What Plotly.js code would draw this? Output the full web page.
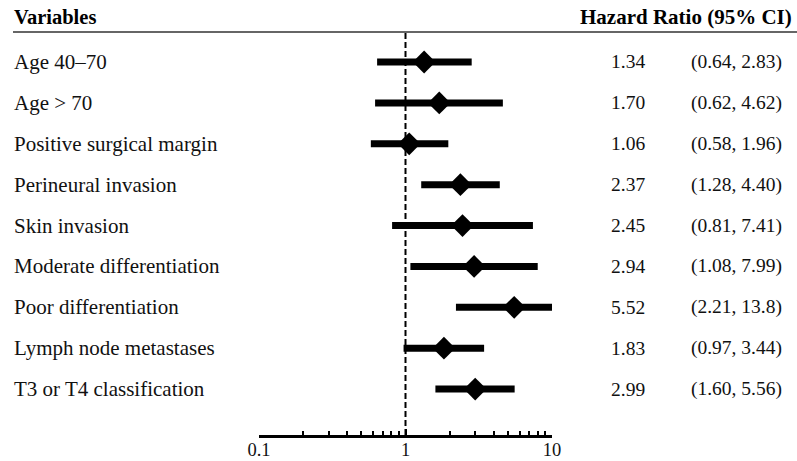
<!DOCTYPE html>
<html>
<head>
<meta charset="utf-8">
<script src="https://cdn.plot.ly/plotly-3.0.1.min.js"></script>
<style>html,body{margin:0;padding:0;background:#fff;}#chart{width:797px;height:461px;}</style>
</head>
<body>
<div id="chart"></div>
<script>
const variables = ["Age 40–70","Age > 70","Positive surgical margin","Perineural invasion","Skin invasion","Moderate differentiation","Poor differentiation","Lymph node metastases","T3 or T4 classification"];
const hr = [1.34,1.70,1.06,2.37,2.45,2.94,5.52,1.83,2.99];
const ciLow = [0.64,0.62,0.58,1.28,0.81,1.08,2.21,0.97,1.60];
const ciHigh = [2.83,4.62,1.96,4.40,7.41,7.99,13.8,3.44,5.56];
const hrLabels = ["1.34","1.70","1.06","2.37","2.45","2.94","5.52","1.83","2.99"];
const ciLabels = ["(0.64, 2.83)","(0.62, 4.62)","(0.58, 1.96)","(1.28, 4.40)","(0.81, 7.41)","(1.08, 7.99)","(2.21, 13.8)","(0.97, 3.44)","(1.60, 5.56)"];
const majorTicks = [0.1,1,10];
const minorTicks = [0.2,0.3,0.4,0.5,0.6,0.7,0.8,0.9,2,3,4,5,6,7,8,9];
const refValue = 1;

const serif = "Liberation Serif, Times New Roman, serif";
const W = 797, H = 461;
const px = v => v / W;
const py = v => 1 - v / H;

const segX = [], segY = [];
variables.forEach((v,i)=>{ segX.push(ciLow[i], ciHigh[i], null); segY.push(v, v, null); });

const traces = [
  {x: segX, y: segY, mode: "lines", type: "scatter", line: {color: "#000", width: 7}, hoverinfo: "skip", showlegend: false},
  {x: hr, y: variables, mode: "markers", type: "scatter", marker: {symbol: "diamond", size: 17.5, color: "#000"}, showlegend: false}
];

const yTop = py(32), yBot = py(435);
const annotations = [];
annotations.push({text: "<b>Variables</b>", xref: "paper", yref: "paper", x: px(12), y: py(17), xanchor: "left", yanchor: "middle", showarrow: false, font: {family: serif, size: 20.5, color: "#000"}});
annotations.push({text: "<b>Hazard Ratio (95% CI)</b>", xref: "paper", yref: "paper", x: px(794), y: py(17), xanchor: "right", yanchor: "middle", showarrow: false, font: {family: serif, size: 21, color: "#000"}});
variables.forEach((v,i)=>{
  annotations.push({text: v, xref: "paper", yref: "y", x: px(12), y: v, xanchor: "left", yanchor: "middle", showarrow: false, font: {family: serif, size: 21, color: "#111"}});
  annotations.push({text: hrLabels[i], xref: "paper", yref: "y", x: px(628), y: v, xanchor: "center", yanchor: "middle", showarrow: false, font: {family: serif, size: 19.5, color: "#111"}});
  annotations.push({text: ciLabels[i], xref: "paper", yref: "y", x: px(689), y: v, xanchor: "left", yanchor: "middle", showarrow: false, font: {family: serif, size: 19.5, color: "#111"}});
});

const layout = {
  width: W, height: H,
  margin: {l: 0, r: 0, t: 0, b: 0},
  paper_bgcolor: "#fff", plot_bgcolor: "#fff",
  showlegend: false,
  xaxis: {
    type: "log", range: [-1, 1], domain: [px(259), px(552)],
    showgrid: false, zeroline: false, showline: true, linecolor: "#000", linewidth: 3,
    tickmode: "array", tickvals: majorTicks, ticktext: majorTicks.map(String),
    ticks: "inside", ticklen: 6, tickwidth: 2, tickcolor: "#000",
    ticklabelstandoff: -4,
    tickfont: {family: serif, size: 18.5, color: "#111"},
    minor: {tickmode: "array", tickvals: minorTicks, ticks: "inside", ticklen: 4, tickwidth: 2, tickcolor: "#000", showgrid: false},
    fixedrange: true
  },
  yaxis: {
    type: "category", categoryorder: "array", categoryarray: variables,
    range: [9.125, -0.734], domain: [yBot, yTop],
    showgrid: false, zeroline: false, showline: false, showticklabels: false, ticks: "",
    fixedrange: true
  },
  shapes: [
    {type: "line", xref: "x", yref: "paper", x0: refValue, x1: refValue, y0: yBot, y1: yTop, line: {color: "#000", width: 2, dash: "6px,3px"}},
    {type: "line", xref: "paper", yref: "paper", x0: px(13), x1: 1, y0: yTop, y1: yTop, line: {color: "#333", width: 1.5}}
  ],
  annotations: annotations
};

Plotly.newPlot("chart", traces, layout, {staticPlot: true, displayModeBar: false});
</script>
</body>
</html>
